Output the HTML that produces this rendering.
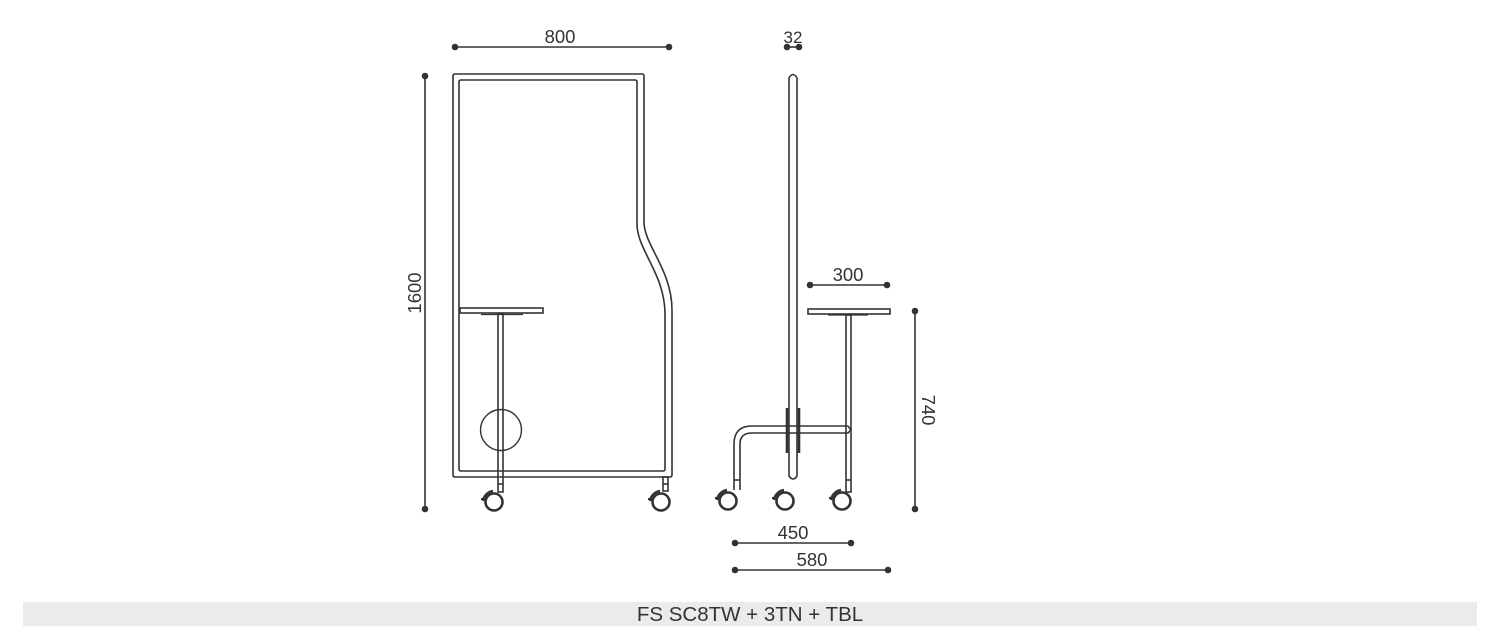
<!DOCTYPE html>
<html><head><meta charset="utf-8"><style>
html,body{margin:0;padding:0;background:#fff;width:1500px;height:626px;overflow:hidden}
svg{display:block}
text{font-family:"Liberation Sans",sans-serif;fill:#333;font-size:18.5px}
</style></head><body>
<svg width="1500" height="626" viewBox="0 0 1500 626" xmlns="http://www.w3.org/2000/svg">
<defs>
<g id="caster">
<circle cx="0" cy="0" r="8.5" fill="none" stroke="#333" stroke-width="2.6"/>
<path d="M-11,-1 A12,12 0 0 1 -1,-11" fill="none" stroke="#333" stroke-width="2.6"/>
<path d="M-13,-3 L-8,-3" stroke="#333" stroke-width="2"/>
</g>
</defs>
<g fill="none" stroke="#333" stroke-width="1.6">
<path d="M455,74 L642,74 Q644,74 644,76 L644,222 C644,245 672,270 672,310 L672,475 Q672,477 670,477 L455,477 Q453,477 453,475 L453,76 Q453,74 455,74 Z"/>
<path d="M461,80 L635,80 Q637,80 637,82 L637,224 C637,250 665,274 665,314 L665,469 Q665,471 663,471 L461,471 Q459,471 459,469 L459,82 Q459,80 461,80 Z"/>
<rect x="460" y="308" width="83" height="5"/>
<line x1="481" y1="314.5" x2="523" y2="314.5" stroke-width="1.2"/>
<rect x="498" y="314" width="5" height="178"/>
<circle cx="501" cy="430" r="20.5" stroke-width="1.4"/>
<rect x="663" y="477" width="5" height="14"/>
<line x1="498" y1="484" x2="503" y2="484"/>
<line x1="663" y1="484" x2="668" y2="484"/>
<path d="M789,476 L789,78 Q793,71 797,78 L797,476 Q793,482 789,476 Z"/>
<rect x="808" y="309" width="82" height="5"/>
<line x1="828" y1="315" x2="868" y2="315" stroke-width="1.2"/>
<rect x="846" y="315" width="5" height="177"/>
<path d="M848,426 L752,426 Q734,426 734,444 L734,490 M740,490 L740,444 Q740,433 752,433 L848,433 L851,430 L848,426"/>
<line x1="734" y1="480" x2="740" y2="480"/>
<line x1="846" y1="480" x2="851" y2="480"/>
</g>
<g stroke="#333" stroke-width="2.6">
<line x1="787" y1="408" x2="787" y2="453"/>
<line x1="799" y1="408" x2="799" y2="453"/>
</g>
<use href="#caster" x="494" y="502"/>
<use href="#caster" x="661" y="502"/>
<use href="#caster" x="728" y="501"/>
<use href="#caster" x="785" y="501"/>
<use href="#caster" x="842" y="501"/>
<g stroke="#333" stroke-width="1.6" fill="#333">
<line x1="455" y1="47" x2="669" y2="47"/><circle cx="455" cy="47" r="2.5"/><circle cx="669" cy="47" r="2.5"/>
<line x1="425" y1="76" x2="425" y2="509"/><circle cx="425" cy="76" r="2.5"/><circle cx="425" cy="509" r="2.5"/>
<line x1="787" y1="47" x2="799" y2="47"/><circle cx="787" cy="47" r="2.5"/><circle cx="799" cy="47" r="2.5"/>
<line x1="810" y1="285" x2="887" y2="285"/><circle cx="810" cy="285" r="2.5"/><circle cx="887" cy="285" r="2.5"/>
<line x1="915" y1="311" x2="915" y2="509"/><circle cx="915" cy="311" r="2.5"/><circle cx="915" cy="509" r="2.5"/>
<line x1="735" y1="543" x2="851" y2="543"/><circle cx="735" cy="543" r="2.5"/><circle cx="851" cy="543" r="2.5"/>
<line x1="735" y1="570" x2="888" y2="570"/><circle cx="735" cy="570" r="2.5"/><circle cx="888" cy="570" r="2.5"/>
</g>
<text x="560" y="43" text-anchor="middle">800</text>
<text x="793" y="43" text-anchor="middle" style="font-size:17px">32</text>
<text x="848" y="281" text-anchor="middle">300</text>
<text x="793" y="539" text-anchor="middle">450</text>
<text x="812" y="566" text-anchor="middle">580</text>
<text transform="translate(421,293) rotate(-90)" text-anchor="middle">1600</text>
<text transform="translate(922,410) rotate(90)" text-anchor="middle">740</text>
<rect x="23" y="602" width="1454" height="24" fill="#ebebeb"/>
<text x="750" y="621" text-anchor="middle" style="font-size:20.5px">FS SC8TW + 3TN + TBL</text>
</svg>
</body></html>
